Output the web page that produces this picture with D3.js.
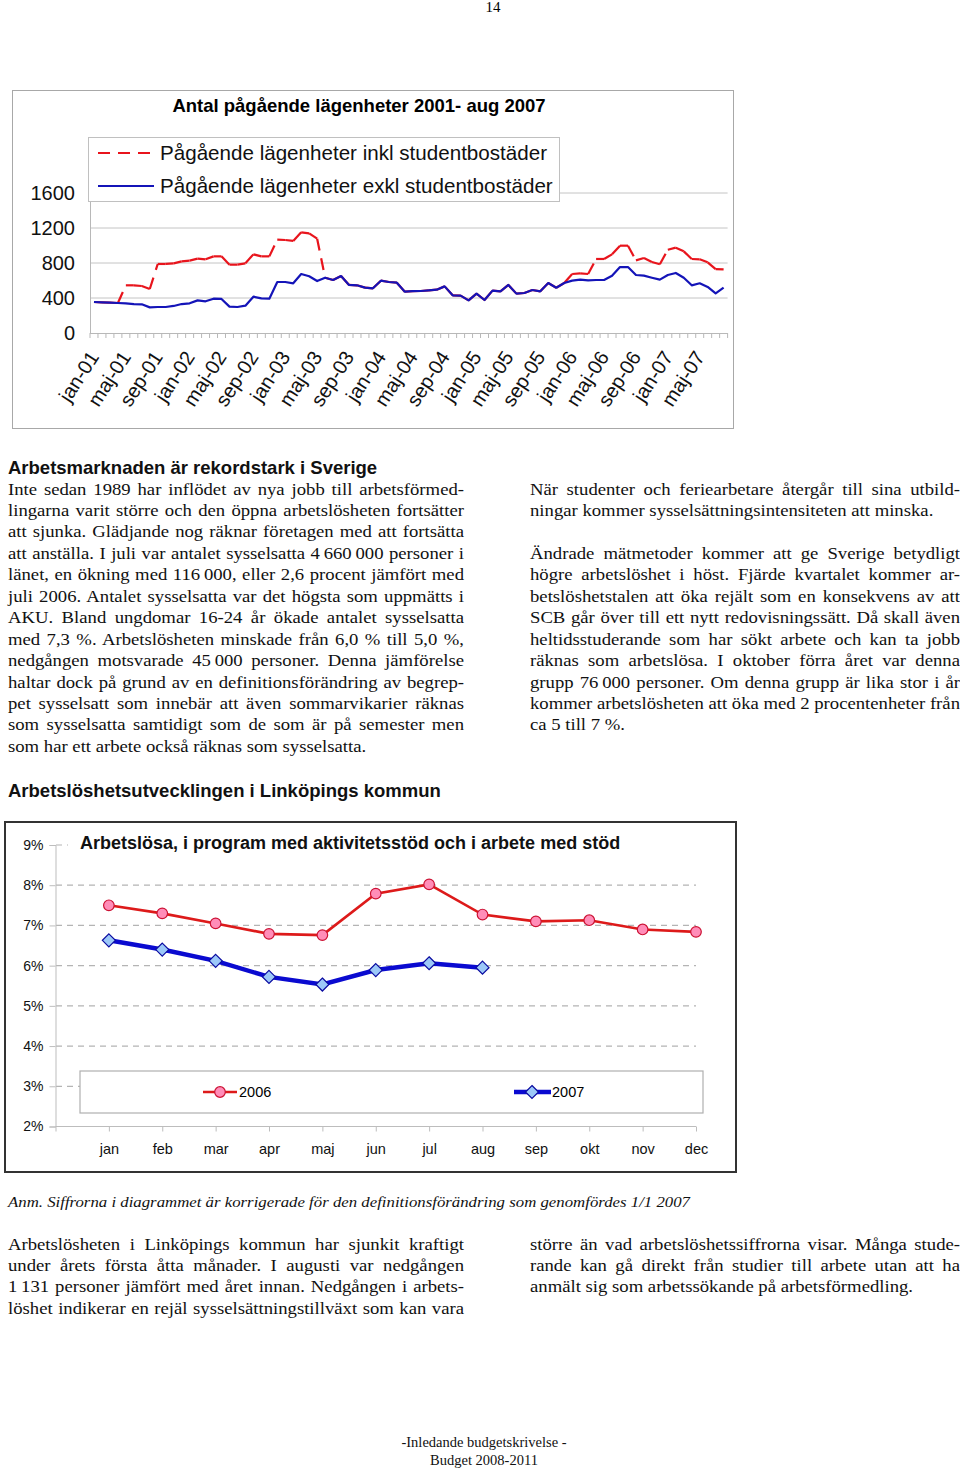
<!DOCTYPE html>
<html><head><meta charset="utf-8">
<script src="https://cdn.jsdelivr.net/npm/d3@7"></script>
<style>body{margin:0;background:#fff}svg{display:block}</style>
</head><body>
<script>
// ---------- DATA: chart 1 ----------
const monthAbbr = ["jan","feb","mar","apr","maj","jun","jul","aug","sep","okt","nov","dec"];
const yearsShort = ["01","02","03","04","05","06","07"];
const months = [];
yearsShort.forEach(y => monthAbbr.forEach(m => months.push(m + "-" + y)));
months.splice(80); // jan-01 .. aug-07
const xTickLabels = ["jan-01","maj-01","sep-01","jan-02","maj-02","sep-02","jan-03","maj-03","sep-03","jan-04","maj-04","sep-04","jan-05","maj-05","sep-05","jan-06","maj-06","sep-06","jan-07","maj-07"];
const yTicks1 = [0, 400, 800, 1200, 1600];
const exklStudent = [354,350,347,343,339,331,328,293,297,297,309,331,339,373,362,392,389,301,297,312,
  415,396,392,583,583,568,674,648,594,632,606,651,549,545,518,511,598,583,575,472,
  478,480,488,495,533,431,427,373,450,377,484,476,549,450,457,491,476,571,518,571,
  598,610,602,606,606,655,754,754,663,655,632,610,663,686,632,545,568,526,453,518];
const inklStudent = [354,350,347,343,545,545,537,503,789,789,796,819,827,850,842,876,876,781,781,796,
  899,876,876,1067,1063,1052,1151,1139,1078,632,606,651,549,545,518,511,598,583,575,472,
  478,480,488,495,533,431,427,373,450,377,484,476,549,450,457,491,476,571,518,571,
  674,682,674,846,846,899,998,998,830,857,811,785,952,975,933,846,842,808,731,728];
const seriesNames1 = ["Pågående lägenheter inkl studentbostäder","Pågående lägenheter exkl studentbostäder"];

// ---------- DATA: chart 2 ----------
const months2 = ["jan","feb","mar","apr","maj","jun","jul","aug","sep","okt","nov","dec"];
const rate2006 = [7.50,7.30,7.05,6.79,6.76,7.79,8.02,7.27,7.10,7.13,6.90,6.84];
const rate2007 = [6.63,6.40,6.12,5.72,5.53,5.89,6.06,5.95];
const yTicks2 = [2,3,4,5,6,7,8,9];

// ---------- TEXT ----------
const leftHeading = "Arbetsmarknaden är rekordstark i Sverige";
const leftLines = [
 "Inte sedan 1989 har inflödet av nya jobb till arbetsförmed-",
 "lingarna varit större och den öppna arbetslösheten fortsätter",
 "att sjunka. Glädjande nog räknar företagen med att fortsätta",
 "att anställa. I juli var antalet sysselsatta 4\u2009660\u2009000 personer i",
 "länet, en ökning med 116\u2009000, eller 2,6 procent jämfört med",
 "juli 2006. Antalet sysselsatta var det högsta som uppmätts i",
 "AKU. Bland ungdomar 16-24 år ökade antalet sysselsatta",
 "med 7,3 %. Arbetslösheten minskade från 6,0 % till 5,0 %,",
 "nedgången motsvarade 45\u2009000 personer. Denna jämförelse",
 "haltar dock på grund av en definitionsförändring av begrep-",
 "pet sysselsatt som innebär att även sommarvikarier räknas",
 "som sysselsatta samtidigt som de som är på semester men",
 "som har ett arbete också räknas som sysselsatta."];
const rightLines = [
 ["När studenter och feriearbetare återgår till sina utbild-",0,true],
 ["ningar kommer sysselsättningsintensiteten att minska.",1,false],
 ["Ändrade mätmetoder kommer att ge Sverige betydligt",3,true],
 ["högre arbetslöshet i höst. Fjärde kvartalet kommer ar-",4,true],
 ["betslöshetstalen att öka rejält som en konsekvens av att",5,true],
 ["SCB går över till ett nytt redovisningssätt. Då skall även",6,true],
 ["heltidsstuderande som har sökt arbete och kan ta jobb",7,true],
 ["räknas som arbetslösa. I oktober förra året var denna",8,true],
 ["grupp 76\u2009000 personer. Om denna grupp är lika stor i år",9,true],
 ["kommer arbetslösheten att öka med 2 procentenheter från",10,true],
 ["ca 5 till 7 %.",11,false]];
const heading2 = "Arbetslöshetsutvecklingen i Linköpings kommun";
const anm = "Anm. Siffrorna i diagrammet är korrigerade för den definitionsförändring som genomfördes 1/1 2007";
const bottomLeft = [
 "Arbetslösheten i Linköpings kommun har sjunkit kraftigt",
 "under årets första åtta månader. I augusti var nedgången",
 "1\u2009131 personer jämfört med året innan. Nedgången i arbets-",
 "löshet indikerar en rejäl sysselsättningstillväxt som kan vara"];
const bottomRight = [
 "större än vad arbetslöshetssiffrorna visar. Många stude-",
 "rande kan gå direkt från studier till arbete utan att ha",
 "anmält sig som arbetssökande på arbetsförmedling."];

const SERIF = "'Liberation Serif','Times New Roman',serif";
const SANS = "'Liberation Sans',Arial,sans-serif";
const BODY_SIZE = 17, SX = 1.1, LH = 21.45;

const svg = d3.select("body").append("svg").attr("width",960).attr("height",1472);

// one line of body text, horizontally scaled, optionally justified to width
function bodyLine(x, y, s, width, justify){
  const g = svg.append("g").attr("transform",`translate(${x},${y}) scale(${SX},1)`);
  const t = g.append("text").attr("x",0).attr("y",0)
    .attr("font-family",SERIF).attr("font-size",BODY_SIZE).attr("fill","#111").text(s);
  if(justify){
    const w = t.node().getComputedTextLength();
    const n = (s.match(/ /g)||[]).length;
    if(n) t.attr("word-spacing", (width/SX - w)/n);
  }
}
function para(x, y0, lines, width, lastJustified){
  lines.forEach((s,i)=>bodyLine(x, y0+i*LH, s, width, i<lines.length-1 || lastJustified));
}

// page number
svg.append("text").attr("x",493).attr("y",12).attr("text-anchor","middle")
  .attr("font-family",SERIF).attr("font-size",15).text("14");

// ================= CHART 1 =================
svg.append("rect").attr("x",12.5).attr("y",90.5).attr("width",721).attr("height",338)
  .attr("fill","#fff").attr("stroke","#a8a8a8");
svg.append("text").attr("x",359).attr("y",112).attr("text-anchor","middle")
  .attr("font-family",SANS).attr("font-weight","bold").attr("font-size",18.5)
  .text("Antal pågående lägenheter 2001- aug 2007");

const x1 = d3.scalePoint().domain(months).range([90,727.6]).padding(0.5);
const y1 = d3.scaleLinear().domain([0,1600]).range([333,193]);
const step1 = x1.step();

const g1 = svg.append("g");
g1.selectAll("line.grid").data(yTicks1.filter(d=>d>0)).enter().append("line")
  .attr("x1",90).attr("x2",727.6).attr("y1",d=>y1(d)).attr("y2",d=>y1(d))
  .attr("stroke","#c4c4c4").attr("stroke-width",1);
const yAxis1 = d3.axisLeft(y1).tickValues(yTicks1).tickSize(0).tickPadding(15).tickFormat(d3.format("d"));
const ya1 = g1.append("g").attr("transform","translate(90,0)").call(yAxis1);
ya1.select(".domain").attr("stroke","#b8b8b8");
ya1.selectAll("text").attr("font-family",SANS).attr("font-size",20).attr("fill","#111");
g1.append("line").attr("x1",90).attr("x2",727.6).attr("y1",333.5).attr("y2",333.5).attr("stroke","#b8b8b8");
g1.selectAll("line.xt").data(d3.range(months.length+1)).enter().append("line")
  .attr("x1",i=>90+i*step1).attr("x2",i=>90+i*step1).attr("y1",333).attr("y2",338)
  .attr("stroke","#b8b8b8");
g1.selectAll("text.xl").data(xTickLabels).enter().append("text")
  .attr("transform",d=>`translate(${x1(d)},${353}) rotate(-57)`)
  .attr("text-anchor","end").attr("dy","0.35em")
  .attr("font-family",SANS).attr("font-size",20).attr("fill","#111").text(d=>d);

const red1 = "#e8141c", blue1 = "#1414b8";
const segs = d3.range(inklStudent.length-1).map(i=>[[x1(months[i]),y1(inklStudent[i])],[x1(months[i+1]),y1(inklStudent[i+1])]]);
g1.selectAll("line.rs").data(segs).enter().append("line")
  .attr("x1",d=>d[0][0]).attr("y1",d=>d[0][1]).attr("x2",d=>d[1][0]).attr("y2",d=>d[1][1])
  .attr("stroke",red1).attr("stroke-width",2.2).attr("stroke-dasharray","12,8");
const line1 = d3.line().x((d,i)=>x1(months[i])).y(d=>y1(d));
g1.append("path").attr("d",line1(exklStudent)).attr("fill","none")
  .attr("stroke",blue1).attr("stroke-width",2.2).attr("stroke-linejoin","round");

const lg1 = svg.append("g");
lg1.append("rect").attr("x",88.5).attr("y",137.5).attr("width",471).attr("height",64)
  .attr("fill","#fff").attr("stroke","#c0c0c0");
lg1.append("line").attr("x1",98).attr("x2",151).attr("y1",153).attr("y2",153)
  .attr("stroke",red1).attr("stroke-width",2.2).attr("stroke-dasharray","12,8");
lg1.append("line").attr("x1",98).attr("x2",154).attr("y1",186).attr("y2",186)
  .attr("stroke",blue1).attr("stroke-width",2.2);
lg1.selectAll("text").data(seriesNames1).enter().append("text")
  .attr("x",160).attr("y",(d,i)=>160+i*33).attr("font-family",SANS).attr("font-size",20.6)
  .attr("fill","#111").text(d=>d);

// ================= TEXT BLOCK 1 =================
svg.append("text").attr("x",8).attr("y",473.5).attr("font-family",SANS).attr("font-weight","bold")
  .attr("font-size",18.5).attr("fill","#111").text(leftHeading);
para(8, 494.5, leftLines, 456, false);
rightLines.forEach(([s,k,j])=>bodyLine(530, 494.5+k*LH, s, 430, j));

svg.append("text").attr("x",8).attr("y",796.5).attr("font-family",SANS).attr("font-weight","bold")
  .attr("font-size",18.5).attr("fill","#111").text(heading2);

// ================= CHART 2 =================
svg.append("rect").attr("x",5).attr("y",822).attr("width",731).attr("height",350)
  .attr("fill","#fff").attr("stroke","#333").attr("stroke-width",2);
const x2 = d3.scaleLinear().domain([0,12]).range([55.5,696]);
const y2 = d3.scaleLinear().domain([2,9]).range([1126.5,845]);
const g2 = svg.append("g");
g2.selectAll("line.g2").data(yTicks2.filter(d=>d>2 && d<9)).enter().append("line")
  .attr("x1",56).attr("x2",696).attr("y1",d=>y2(d)).attr("y2",d=>y2(d))
  .attr("stroke","#b4b4b4").attr("stroke-width",1.2).attr("stroke-dasharray","6,5");
g2.append("line").attr("x1",56).attr("x2",68).attr("y1",y2(9)).attr("y2",y2(9))
  .attr("stroke","#b4b4b4").attr("stroke-width",1.2).attr("stroke-dasharray","6,5");
const ya2 = g2.append("g").attr("transform","translate(55.5,0)")
  .call(d3.axisLeft(y2).tickValues(yTicks2).tickSize(6).tickPadding(6).tickFormat(d=>d+"%"));
ya2.selectAll("path,line").attr("stroke","#bdbdbd");
ya2.selectAll("text").attr("font-family",SANS).attr("font-size",14).attr("fill","#111");
const xa2 = g2.append("g").attr("transform","translate(0,1126.5)")
  .call(d3.axisBottom(x2).tickValues(d3.range(0,13)).tickSize(5).tickPadding(12).tickFormat(i=>i>0?months2[i-1]:""));
xa2.selectAll("path,line").attr("stroke","#bdbdbd");
xa2.select(".domain").attr("d","M55.5,0H696");
xa2.selectAll("text").attr("font-family",SANS).attr("font-size",14.5).attr("fill","#111");

svg.append("text").attr("x",80).attr("y",848.5).attr("font-family",SANS).attr("font-weight","bold")
  .attr("font-size",18).attr("fill","#111").text("Arbetslösa, i program med aktivitetsstöd och i arbete med stöd");

g2.append("rect").attr("x",80).attr("y",1071).attr("width",623).attr("height",42)
  .attr("fill","#fff").attr("stroke","#b0b0b0").attr("stroke-width",1.2);

const red2="#dd1a1a", pink="#ff8db8", blue2="#0a0ad0", lblue="#9cc8f8";
const diamond = "M0,-6.5L6.5,0L0,6.5L-6.5,0Z";
const line2 = d3.line().x((d,i)=>x2(i+1)).y(d=>y2(d));
g2.append("path").attr("d",line2(rate2006)).attr("fill","none").attr("stroke",red2).attr("stroke-width",2.6);
g2.append("path").attr("d",line2(rate2007)).attr("fill","none").attr("stroke",blue2).attr("stroke-width",4.5);
g2.selectAll("circle.m").data(rate2006).enter().append("circle")
  .attr("cx",(d,i)=>x2(i+1)).attr("cy",d=>y2(d)).attr("r",5.3)
  .attr("fill",pink).attr("stroke","#cc1133").attr("stroke-width",1.2);
g2.selectAll("path.dm").data(rate2007).enter().append("path")
  .attr("transform",(d,i)=>`translate(${x2(i+1)},${y2(d)})`).attr("d",diamond)
  .attr("fill",lblue).attr("stroke","#0a0aa0").attr("stroke-width",1.2);

g2.append("line").attr("x1",203).attr("x2",237).attr("y1",1092).attr("y2",1092).attr("stroke",red2).attr("stroke-width",2.6);
g2.append("circle").attr("cx",220).attr("cy",1092).attr("r",5.3).attr("fill",pink).attr("stroke","#cc1133").attr("stroke-width",1.2);
g2.append("text").attr("x",239).attr("y",1097).attr("font-family",SANS).attr("font-size",14.5).text("2006");
g2.append("line").attr("x1",514).attr("x2",551).attr("y1",1092).attr("y2",1092).attr("stroke",blue2).attr("stroke-width",4.5);
g2.append("path").attr("transform","translate(532,1092)").attr("d",diamond).attr("fill",lblue).attr("stroke","#0a0aa0").attr("stroke-width",1.2);
g2.append("text").attr("x",552).attr("y",1097).attr("font-family",SANS).attr("font-size",14.5).text("2007");

// ================= TEXT BLOCK 2 =================
svg.append("text").attr("x",8).attr("y",1207).attr("font-family",SERIF).attr("font-style","italic")
  .attr("font-size",15.5).attr("fill","#111").attr("textLength",682).attr("lengthAdjust","spacingAndGlyphs").text(anm);
para(8, 1249.5, bottomLeft, 456, true);
para(530, 1249.5, bottomRight, 430, false);

svg.append("text").attr("x",484).attr("y",1447).attr("text-anchor","middle").attr("font-family",SERIF)
  .attr("font-size",14.5).attr("fill","#111").text("-Inledande budgetskrivelse -");
svg.append("text").attr("x",484).attr("y",1465).attr("text-anchor","middle").attr("font-family",SERIF)
  .attr("font-size",14.5).attr("fill","#111").text("Budget 2008-2011");
</script>
</body></html>
